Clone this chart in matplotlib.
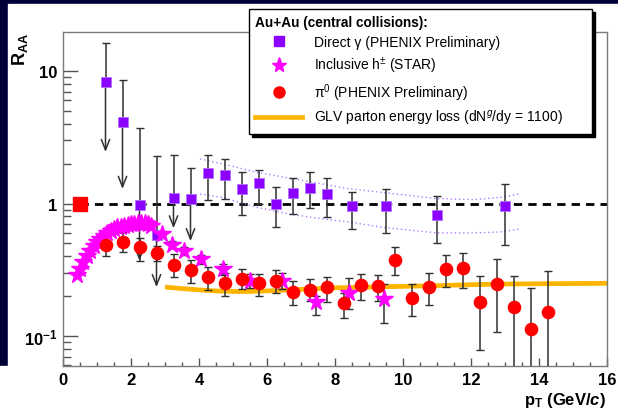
import matplotlib
matplotlib.use("Agg")
import matplotlib.pyplot as plt
from matplotlib.lines import Line2D
from matplotlib.patches import Rectangle
from matplotlib.ticker import FixedLocator, NullFormatter, LogLocator

plt.rcParams['font.family'] = ['Liberation Sans', 'DejaVu Sans']
plt.rcParams['mathtext.fontset'] = 'custom'
plt.rcParams['mathtext.rm'] = 'Liberation Sans'
plt.rcParams['mathtext.it'] = 'Liberation Sans:italic'
plt.rcParams['mathtext.bf'] = 'Liberation Sans:bold'
plt.rcParams['mathtext.bfit'] = 'Liberation Sans:italic:bold'

# direct photons (PHENIX prelim.)
gam_x = [1.25, 1.75, 2.25, 2.75, 3.25, 3.75, 4.25, 4.75, 5.25, 5.75, 6.25, 6.75, 7.25, 7.75, 8.5, 9.5, 11.0, 13.0]
gam_y = [8.3, 4.14, 0.97, 0.58, 1.11, 1.08, 1.70, 1.65, 1.29, 1.42, 1.0, 1.2, 1.32, 1.18, 0.95, 0.95, 0.82, 0.96]
gam_top = [16.3, 8.6, 3.7, 2.3, 2.32, 1.85, 2.33, 2.17, 1.74, 1.80, 1.34, 1.55, 1.72, 1.55, 1.23, 1.29, 1.13, 1.40]
gam_bot = [2.45, 1.29, 0.37, 0.234, 0.65, 0.52, 1.06, 1.09, 0.82, 0.99, 0.66, 0.83, 0.92, 0.79, 0.64, 0.60, 0.50, 0.49]
gam_limit = [1, 1, 1, 1, 1, 1, 0, 0, 0, 0, 0, 0, 0, 0, 0, 0, 0, 0]

# systematic band (dotted)
band_x = [4.03, 4.7, 5.7, 6.68, 7.66, 8.34, 9.42, 11.0, 12.07, 12.85, 13.4]
band_hi = [2.17, 1.99, 1.72, 1.55, 1.40, 1.30, 1.21, 1.09, 1.07, 1.11, 1.18]
band_lo = [1.18, 1.11, 0.936, 0.83, 0.764, 0.73, 0.66, 0.60, 0.60, 0.61, 0.64]

# inclusive h+- (STAR)
h_x = [0.4, 0.5, 0.6, 0.7, 0.8, 0.9, 1.0, 1.1, 1.2, 1.3, 1.4, 1.5, 1.6, 1.7, 1.8, 1.9, 2.0, 2.1,
       2.2, 2.3, 2.4, 2.5, 2.6, 2.9, 3.2, 3.55, 4.05, 4.7, 5.5, 6.45, 7.45, 8.4, 9.45]
h_y = [0.29, 0.32, 0.36, 0.40, 0.44, 0.48, 0.51, 0.54, 0.57, 0.60, 0.62, 0.64, 0.66, 0.67, 0.68, 0.69, 0.70, 0.70,
       0.71, 0.71, 0.71, 0.70, 0.68, 0.59, 0.49, 0.44, 0.38, 0.32, 0.26, 0.258, 0.18, 0.21, 0.19]
h_elo = [0] * 23 + [0.03, 0.03, 0.03, 0.03, 0.03, 0.03, 0.03, 0.035, 0.05, 0.065]
h_ehi = [0] * 23 + [0.03, 0.03, 0.03, 0.03, 0.03, 0.035, 0.04, 0.02, 0.065, 0.055]

# pi0 (PHENIX prelim.)
pi_x = [1.25, 1.75, 2.25, 2.75, 3.25, 3.75, 4.25, 4.75, 5.25, 5.75, 6.25, 6.75, 7.25, 7.75, 8.25, 8.75, 9.25,
        9.75, 10.25, 10.75, 11.25, 11.75, 12.25, 12.75, 13.25, 13.75, 14.25]
pi_y = [0.49, 0.515, 0.47, 0.42, 0.345, 0.316, 0.277, 0.25, 0.27, 0.25, 0.261, 0.216, 0.223, 0.233, 0.177, 0.243,
        0.237, 0.377, 0.194, 0.233, 0.32, 0.324, 0.18, 0.247, 0.165, 0.113, 0.153]
pi_top = [0.57, 0.606, 0.546, 0.48, 0.416, 0.377, 0.33, 0.30, 0.32, 0.294, 0.316, 0.26, 0.27, 0.28, 0.213, 0.294,
          0.288, 0.47, 0.247, 0.30, 0.409, 0.42, 0.285, 0.38, 0.285, 0.229, 0.311]
pi_bot = [0.40, 0.43, 0.37, 0.37, 0.277, 0.25, 0.222, 0.20, 0.226, 0.20, 0.211, 0.171, 0.185, 0.18, 0.136, 0.187,
          0.185, 0.288, 0.141, 0.17, 0.233, 0.229, 0.078, 0.107, 0.05, 0.05, 0.05]

# GLV curve
glv_x = [3.0, 3.5, 4.0, 4.5, 5.0, 5.5, 6.0, 6.5, 7.0, 8.0, 9.0, 10.0, 11.0, 12.0, 13.0, 14.0, 15.0, 16.0]
glv_y = [0.234, 0.228, 0.223, 0.219, 0.217, 0.217, 0.219, 0.222, 0.225, 0.231, 0.234, 0.237, 0.24, 0.244,
         0.247, 0.248, 0.249, 0.25]

ref_x = [0.5]
ref_y = [1.0]

purple = '#8c00ff'
magenta = '#ff00ff'
red = '#ff0000'
orange = '#ffb400'
ecol = '#303030'

fig = plt.figure(figsize=(6.18, 4.14), dpi=100, facecolor='#000038')
fig.add_artist(Rectangle((8 / 618, 0), 1, 409 / 414, transform=fig.transFigure, color='white', zorder=-5))
fig.add_artist(Rectangle((0, 0), 0.05, 47 / 414, transform=fig.transFigure, color='white', zorder=-5))

ax = fig.add_axes([63 / 618, 47 / 414, 544 / 618, 334 / 414])
ax.set_facecolor('white')
ax.set_yscale('log')
ax.set_xlim(0, 16)
ax.set_ylim(0.0594, 19.7)

ax.plot(glv_x, glv_y, color=orange, lw=3.4, solid_capstyle='butt', zorder=2)
ax.plot([0.5, 16], [1, 1], color='black', lw=2, ls=(0, (3, 2.2)), zorder=2)
ax.plot(band_x, band_hi, color='#b07cff', lw=1, ls=(0, (1, 2)), zorder=2)
ax.plot(band_x, band_lo, color='#b07cff', lw=1, ls=(0, (1, 2)), zorder=2)

# direct photons: upper limits get an arrow down
for x, y, t, b, lim in zip(gam_x, gam_y, gam_top, gam_bot, gam_limit):
    if lim:
        ax.errorbar([x], [y], yerr=[[0], [t - y]], fmt='none', ecolor=ecol, elinewidth=1.1, capsize=3, zorder=3)
        ax.annotate('', xy=(x, b), xytext=(x, y),
                    arrowprops=dict(arrowstyle='->,head_length=0.75,head_width=0.3', color=ecol, lw=1.1,
                                    shrinkA=0, shrinkB=0), zorder=3)
    else:
        ax.errorbar([x], [y], yerr=[[y - b], [t - y]], fmt='none', ecolor=ecol, elinewidth=1.1, capsize=3, zorder=3)
ax.plot(gam_x, gam_y, 's', color=purple, ms=7.8, mec='#b070ff', mew=0.6, zorder=4)

ax.errorbar(h_x, h_y, yerr=[h_elo, h_ehi], fmt='none', ecolor=ecol, elinewidth=1.1, capsize=3, zorder=3)
ax.plot(h_x, h_y, '*', color=magenta, ms=13, mec=magenta, zorder=5)

pi_lo = [y - b for y, b in zip(pi_y, pi_bot)]
pi_hi = [t - y for y, t in zip(pi_y, pi_top)]
ax.errorbar(pi_x, pi_y, yerr=[pi_lo, pi_hi], fmt='none', ecolor=ecol, elinewidth=1.1, capsize=3, zorder=3)
ax.plot(pi_x, pi_y, 'o', color=red, ms=8.8, zorder=6)

ax.plot(ref_x, ref_y, 's', color=red, ms=10, zorder=6)

for s in ax.spines.values():
    s.set_color('#7a7a7a')
    s.set_linewidth(1)

ax.xaxis.set_major_locator(FixedLocator([0, 2, 4, 6, 8, 10, 12, 14, 16]))
ax.xaxis.set_minor_locator(FixedLocator([i * 0.5 for i in range(33)]))
ax.yaxis.set_major_locator(FixedLocator([0.1, 1, 10]))
ax.yaxis.set_minor_locator(LogLocator(base=10, subs=range(2, 10)))
ax.yaxis.set_minor_formatter(NullFormatter())
ax.set_yticklabels([r'$\mathbf{10^{-1}}$', '1', '10'])
ax.set_xticklabels(['0', '2', '4', '6', '8', '10', '12', '14', '16'])
ax.tick_params(axis='x', which='major', direction='in', length=5.5, width=1, color='#555555', pad=4,
               labelsize=12)
ax.tick_params(axis='x', which='minor', direction='in', length=3, width=1, color='#555555')
ax.tick_params(axis='y', which='major', direction='in', length=11, width=1, color='#555555', pad=4,
               labelsize=12)
ax.tick_params(axis='y', which='minor', direction='in', length=5.5, width=1, color='#555555')
for lab in ax.get_xticklabels() + ax.get_yticklabels():
    lab.set_fontweight('bold')

fig.text(20 / 618, 1 - 49 / 414, r'$\mathbf{R_{AA}}$', rotation=90, ha='center', va='center', fontsize=13)
fig.text(606 / 618, 1 - 401 / 414, r'$\mathbf{p_{T}\ (GeV/}\mathbfit{c}\mathbf{)}$', ha='right', va='center',
         fontsize=12)

handles = [
    Line2D([], [], ls='none', marker='s', color=purple, ms=7),
    Line2D([], [], ls='none', marker='*', color=magenta, ms=11),
    Line2D([], [], ls='none', marker='o', color=red, ms=8),
    Line2D([], [], color=orange, lw=3.4),
]
labels = [
    'Direct γ (PHENIX Preliminary)',
    r'Inclusive h$^{\pm}$ (STAR)',
    r'π$^{0}$ (PHENIX Preliminary)',
    r'GLV parton energy loss (dN$^{g}$/dy = 1100)',
]
leg = ax.legend(handles, labels, loc='upper left',
                bbox_to_anchor=(249 / 618, 1 - 127 / 414, 343 / 618, 117 / 414),
                bbox_transform=fig.transFigure, mode='expand', borderaxespad=0,
                title='Au+Au (central collisions):', alignment='left',
                title_fontproperties={'weight': 'bold', 'size': 9.8},
                prop={'size': 10}, handlelength=3.4, handletextpad=0.8, borderpad=0.45,
                labelspacing=0.42, fancybox=False, edgecolor='black', framealpha=1,
                shadow={'color': 'black', 'alpha': 1}, numpoints=1)
leg.get_frame().set_linewidth(1)
leg.set_zorder(10)

fig.savefig('out.png', dpi=100, facecolor=fig.get_facecolor())
